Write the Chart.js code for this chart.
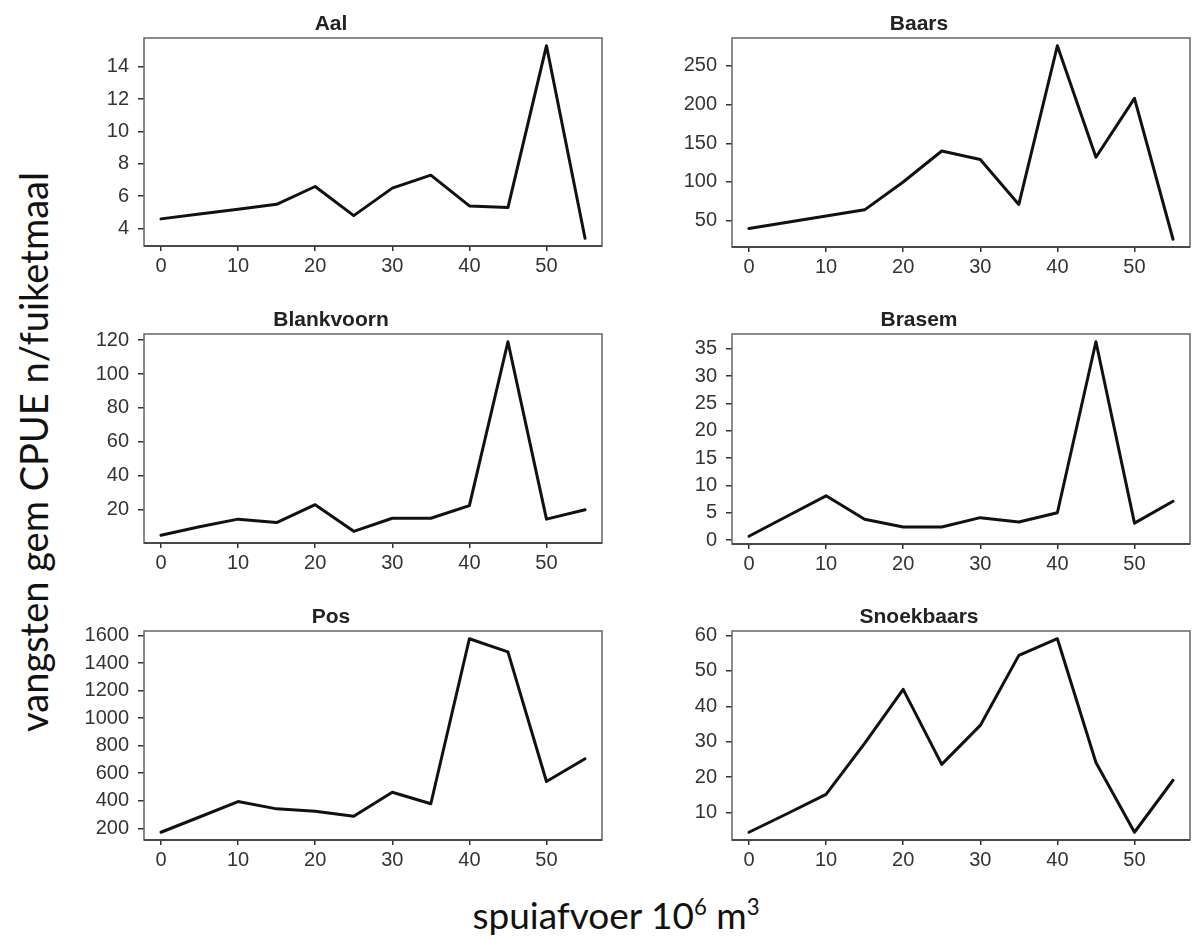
<!DOCTYPE html>
<html>
<head>
<meta charset="utf-8">
<script src="https://cdn.jsdelivr.net/npm/chart.js@4.4.1/dist/chart.umd.min.js"></script>
<style>
  body { margin: 0; background: #fff; width: 1192px; height: 940px; position: relative; overflow: hidden; }
  canvas.panel { position: absolute; }
  #ylab {
    position: absolute; left: 33px; top: 452px;
    transform: translate(-50%, -50%) rotate(-90deg);
    font-family: Lato, "Open Sans", sans-serif; font-size: 38px; color: #111; white-space: nowrap;
  }
  #xlab {
    position: absolute; left: 616px; top: 914px;
    transform: translate(-50%, -50%);
    font-family: Lato, "Open Sans", sans-serif; font-size: 37px; color: #111; white-space: nowrap;
  }
  #xlab sup { font-size: 0.6em; vertical-align: 0.6em; line-height: 0; }
</style>
</head>
<body>
<div id="ylab">vangsten gem CPUE n/fuiketmaal</div>
<div id="xlab">spuiafvoer 10<sup>6</sup> m<sup>3</sup></div>
<script>
// spuiafvoer (10^6 m3) per klasse
const spui = [0, 5, 10, 15, 20, 25, 30, 35, 40, 45, 50, 55];
const xTicks = [0, 10, 20, 30, 40, 50];

// gemiddelde CPUE per soort
const aal        = [4.6, 4.9, 5.2, 5.5, 6.6, 4.8, 6.5, 7.3, 5.4, 5.3, 15.3, 3.4];
const baars      = [40, 48, 56, 64, 100, 140, 129, 71, 276, 132, 208, 26];
const blankvoorn = [5, 10, 14.5, 12.5, 23, 7.3, 15, 15, 22.5, 119, 14.5, 20];
const brasem     = [0.7, 4.4, 8.1, 3.8, 2.4, 2.4, 4.1, 3.3, 5, 36.3, 3.1, 7.1];
const pos        = [171, 282, 394, 341, 324, 288, 462, 378, 1577, 1482, 540, 705];
const snoekbaars = [4.4, 9.7, 15.1, 29.5, 44.8, 23.6, 34.6, 54.4, 59.1, 24.1, 4.4, 19.1];

const aalTicks   = [4, 6, 8, 10, 12, 14];
const baarsTicks = [50, 100, 150, 200, 250];
const blankTicks = [20, 40, 60, 80, 100, 120];
const brasemTicks = [0, 5, 10, 15, 20, 25, 30, 35];
const posTicks   = [200, 400, 600, 800, 1000, 1200, 1400, 1600];
const snoekTicks = [10, 20, 30, 40, 50, 60];

// plotvakken: [links, boven, rechts, onder]
const panels = [
  { title: 'Aal',        data: aal,        ticks: aalTicks,    box: [144, 38, 602, 246] },
  { title: 'Baars',      data: baars,      ticks: baarsTicks,  box: [732, 38, 1190, 247] },
  { title: 'Blankvoorn', data: blankvoorn, ticks: blankTicks,  box: [144, 334, 602, 543] },
  { title: 'Brasem',     data: brasem,     ticks: brasemTicks, box: [732, 334, 1190, 544] },
  { title: 'Pos',        data: pos,        ticks: posTicks,    box: [144, 631, 602, 840] },
  { title: 'Snoekbaars', data: snoekbaars, ticks: snoekTicks,  box: [732, 631, 1190, 840] }
];

const Y_AXIS_W = 84, TITLE_H = 38, X_AXIS_H = 50, PAD_R = 2;
const tickFont = { family: '"Liberation Sans", Arial, sans-serif', size: 20 };

// kader rond het plotvak, zoals bij R
const boxPlugin = {
  id: 'box',
  beforeDatasetsDraw(chart) {
    const { ctx, chartArea: a } = chart;
    ctx.save();
    ctx.strokeStyle = '#666';
    ctx.lineWidth = 1.5;
    ctx.strokeRect(a.left, a.top, a.right - a.left, a.bottom - a.top);
    ctx.beginPath();
    ctx.strokeStyle = '#333';
    ctx.moveTo(a.left, a.bottom);
    ctx.lineTo(a.right, a.bottom);
    ctx.stroke();
    ctx.restore();
  }
};

// R-achtige asgrenzen: 4% marge rond het bereik
function pad(min, max) {
  const d = (max - min) * 0.04;
  return [min - d, max + d];
}

panels.forEach(p => {
  const [l, t, r, b] = p.box;
  const canvas = document.createElement('canvas');
  canvas.className = 'panel';
  const cl = l - Y_AXIS_W, ct = t - TITLE_H;
  const w = r - cl + PAD_R, h = b - ct + X_AXIS_H;
  canvas.style.left = cl + 'px';
  canvas.style.top = ct + 'px';
  canvas.style.width = w + 'px';
  canvas.style.height = h + 'px';
  canvas.width = w;
  canvas.height = h;
  document.body.appendChild(canvas);

  const [xMin, xMax] = pad(Math.min(...spui), Math.max(...spui));
  const [yMin, yMax] = pad(Math.min(...p.data), Math.max(...p.data));

  new Chart(canvas.getContext('2d'), {
    type: 'line',
    data: {
      datasets: [{
        data: spui.map((x, i) => ({ x: x, y: p.data[i] })),
        borderColor: '#111',
        borderWidth: 3,
        pointRadius: 0,
        tension: 0,
        borderJoinStyle: 'round',
        borderCapStyle: 'round'
      }]
    },
    options: {
      responsive: false,
      animation: false,
      layout: { padding: { top: 0, right: PAD_R, bottom: 0, left: 0 } },
      plugins: {
        legend: { display: false },
        tooltip: { enabled: false },
        title: {
          display: true,
          text: p.title,
          color: '#222',
          font: { family: '"Liberation Sans", Arial, sans-serif', size: 21, weight: 'bold', lineHeight: 1.2 },
          padding: { top: 12, bottom: 0.8 }
        }
      },
      scales: {
        x: {
          type: 'linear',
          min: xMin,
          max: xMax,
          afterBuildTicks: s => { s.ticks = xTicks.map(v => ({ value: v })); },
          afterFit: s => { s.height = X_AXIS_H; },
          border: { display: false },
          grid: { display: true, drawOnChartArea: false, drawTicks: true, tickLength: 5, color: '#333', lineWidth: 1.5 },
          ticks: { color: '#333', font: tickFont, padding: 3, maxRotation: 0, callback: v => String(v) }
        },
        y: {
          type: 'linear',
          min: yMin,
          max: yMax,
          afterBuildTicks: s => { s.ticks = p.ticks.map(v => ({ value: v })); },
          afterFit: s => { s.width = Y_AXIS_W; },
          border: { display: false },
          grid: { display: true, drawOnChartArea: false, drawTicks: true, tickLength: 6, color: '#333', lineWidth: 1.5 },
          ticks: { color: '#333', font: tickFont, padding: 9, callback: v => String(v) }
        }
      }
    },
    plugins: [boxPlugin]
  });
});
</script>
</body>
</html>
